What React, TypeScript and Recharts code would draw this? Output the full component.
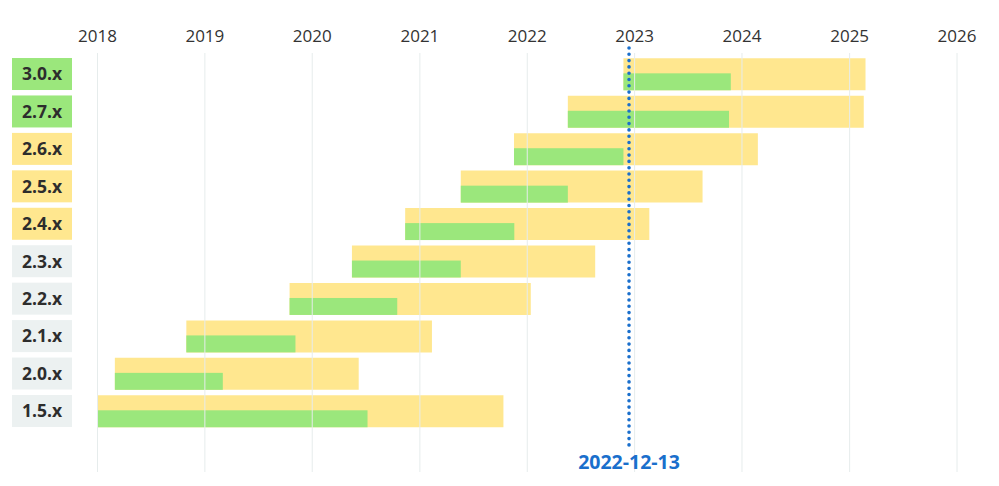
import { BarChart, Bar, XAxis, YAxis, CartesianGrid, ReferenceLine } from 'recharts'

document.body.style.margin = '0'

const versions = ['3.0.x', '2.7.x', '2.6.x', '2.5.x', '2.4.x', '2.3.x', '2.2.x', '2.1.x', '2.0.x', '1.5.x']
const status = ['oss', 'oss', 'commercial', 'commercial', 'commercial', 'eol', 'eol', 'eol', 'eol', 'eol']
const releaseDates = ['2022-11-24', '2022-05-19', '2021-11-17', '2021-05-20', '2020-11-12', '2020-05-15', '2019-10-16', '2018-10-30', '2018-03-01', '2017-01-30']
const ossEndDates = ['2023-11-24', '2023-11-18', '2022-11-24', '2022-05-19', '2021-11-18', '2021-05-20', '2020-10-16', '2019-11-05', '2019-03-03', '2020-07-07']
const commercialEndDates = ['2025-02-24', '2025-02-18', '2024-02-24', '2023-08-20', '2023-02-20', '2022-08-20', '2022-01-13', '2021-02-11', '2020-06-07', '2021-10-12']
const years = [2018, 2019, 2020, 2021, 2022, 2023, 2024, 2025, 2026]
const today = '2022-12-13'

const ts = (d: string) => Date.parse(d + 'T00:00:00Z')
const yearTicks = years.map((y) => Date.UTC(y, 0, 1))

const rows = versions.map((v, i) => ({
  version: v,
  status: status[i],
  full: [ts(releaseDates[i]), ts(commercialEndDates[i])],
  active: [ts(releaseDates[i]), ts(ossEndDates[i])],
}))

const boxColors: Record<string, string> = {
  oss: '#9be77c',
  commercial: '#ffe78f',
  eol: '#ecf1f1',
}

const font = '"Open Sans", sans-serif'

function VersionTick(props: any) {
  const { x, y, payload } = props
  const st = status[versions.indexOf(payload.value)]
  return (
    <g>
      <rect x={x - 60} y={y - 16} width={60} height={32} fill={boxColors[st]} />
      <text x={x - 30} y={y} dy="0.36em" textAnchor="middle" fontFamily={font} fontWeight={700} fontSize={17.5} fill="#2d2d2d">
        {payload.value}
      </text>
    </g>
  )
}

function ActiveShape(props: any) {
  const { x, y, width, height } = props
  const h = height * 0.53
  return <rect x={x} y={y + height - h} width={width} height={h} fill="#9be77c" />
}

function TodayLine(props: any) {
  const { x1, x2, y1, y2 } = props
  const top = Math.min(y1, y2)
  const bottom = Math.max(y1, y2)
  return (
    <g>
      <line x1={x1} x2={x2} y1={top - 5} y2={bottom - 25} stroke="#1a6fcc" strokeWidth={3.6} strokeDasharray="0 6.3" strokeLinecap="round" />
      <text x={x1} y={bottom - 10} dy="0.36em" textAnchor="middle" fontFamily={font} fontWeight={700} fontSize={19.5} fill="#1a6fcc">
        {today}
      </text>
    </g>
  )
}

export default function App() {
  return (
    <BarChart width={999} height={486} data={rows} layout="vertical" margin={{ top: 0, right: 42, left: 0, bottom: 14 }}>
      <XAxis
        type="number"
        orientation="top"
        domain={[yearTicks[0], yearTicks[yearTicks.length - 1]]}
        ticks={yearTicks}
        allowDataOverflow
        tickFormatter={(t) => String(new Date(t).getUTCFullYear())}
        axisLine={false}
        tickLine={false}
        tickSize={0}
        tickMargin={11}
        height={53}
        tick={{ fontFamily: font, fontSize: 17, fill: '#333' }}
      />
      <YAxis
        type="category"
        dataKey="version"
        width={97.5}
        axisLine={false}
        tickLine={false}
        tickSize={0}
        tickMargin={25.5}
        padding={{ top: 2.3, bottom: 42.3 }}
        tick={<VersionTick />}
      />
      <YAxis yAxisId="g" type="category" dataKey="version" hide padding={{ top: 2.3, bottom: 42.3 }} />
      <Bar dataKey="full" barSize={32} fill="#ffe78f" isAnimationActive={false} />
      <Bar dataKey="active" yAxisId="g" barSize={32} shape={<ActiveShape />} isAnimationActive={false} />
      <CartesianGrid horizontal={false} stroke="#e6ecec" zIndex={350} />
      <ReferenceLine x={ts(today)} shape={(p: any) => <TodayLine {...p} />} zIndex={400} />
    </BarChart>
  )
}
